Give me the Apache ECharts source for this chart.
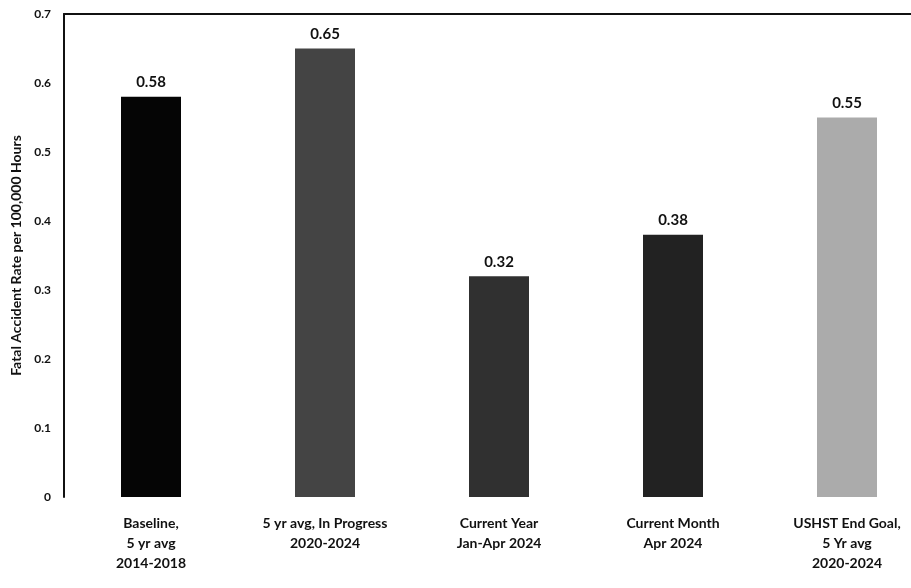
<!DOCTYPE html>
<html><head><meta charset="utf-8">
<script src="https://cdn.jsdelivr.net/npm/echarts@6/dist/echarts.min.js"></script>
<style>html,body{margin:0;padding:0;background:#fff}#c{width:911px;height:588px}</style>
</head><body><div id="c"></div>
<script>
const categories = ['Baseline,\n5 yr avg\n2014-2018', '5 yr avg, In Progress\n2020-2024', 'Current Year\nJan-Apr 2024', 'Current Month\nApr 2024', 'USHST End Goal,\n5 Yr avg\n2020-2024'];
const values = [0.58, 0.65, 0.32, 0.38, 0.55];
const barColors = ['#050505', '#444444', '#303030', '#222222', '#ababab'];
const yTicks = [0, 0.1, 0.2, 0.3, 0.4, 0.5, 0.6, 0.7];

const chart = echarts.init(document.getElementById('c'));
const font = 'Lato, "Open Sans", sans-serif';
chart.setOption({
  animation: false,
  grid: { left: 64, width: 870, top: 14, bottom: 91, containLabel: false, outerBoundsMode: 'none' },
  xAxis: [{
    type: 'category', data: categories,
    axisLine: { show: false }, axisTick: { show: false },
    axisLabel: { color: '#111', fontFamily: font, fontWeight: 'bold', fontSize: 14, lineHeight: 20, margin: 16, interval: 0 }
  }, {
    type: 'category', data: categories, position: 'top',
    axisLine: { show: true, lineStyle: { color: '#111', width: 2 } },
    axisTick: { show: false }, axisLabel: { show: false }
  }],
  yAxis: {
    type: 'value', min: 0, max: 0.7, interval: 0.1,
    name: 'Fatal Accident Rate per 100,000 Hours', nameLocation: 'middle', nameGap: 41,
    nameTextStyle: { color: '#111', fontFamily: font, fontWeight: 'bold', fontSize: 14 },
    axisLine: { show: true, lineStyle: { color: '#111', width: 2 } },
    axisTick: { show: false }, splitLine: { show: false },
    axisLabel: { color: '#111', fontFamily: font, fontWeight: 'bold', fontSize: 12, margin: 13,
      formatter: v => { const t = yTicks.find(x => Math.abs(x - v) < 1e-9); return t === 0 ? '0' : String(t); } }
  },
  series: [{
    type: 'bar', barWidth: 60,
    data: values.map((v, i) => ({ value: v, itemStyle: { color: barColors[i] } })),
    label: { show: true, position: 'top', distance: 7, color: '#111', fontFamily: font, fontWeight: 'bold', fontSize: 15,
      formatter: p => p.value.toFixed(2) }
  }]
});
</script></body></html>
